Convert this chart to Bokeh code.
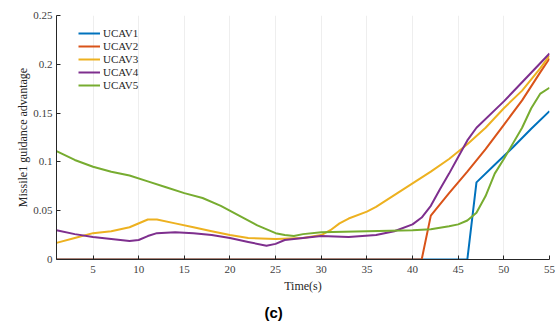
from bokeh.plotting import figure
from bokeh.models import FixedTicker, Legend, LegendItem, Range1d, Title
from bokeh.embed import file_html
from bokeh.resources import INLINE

# ---- data ----
series_names = ["UCAV1", "UCAV2", "UCAV3", "UCAV4", "UCAV5"]
series_colors = ["#0072BD", "#D95319", "#EDB120", "#7E2F8E", "#77AC30"]

t_ucav1 = [1, 10, 20, 30, 40, 46, 47, 49, 51, 53, 55]
v_ucav1 = [0, 0, 0, 0, 0, 0, 0.079, 0.097, 0.115, 0.134, 0.152]

t_ucav2 = [1, 10, 20, 30, 40, 41, 42, 44, 46, 48, 50, 52, 54, 55]
v_ucav2 = [0, 0, 0, 0, 0, 0, 0.045, 0.068, 0.090, 0.113, 0.138, 0.163, 0.192, 0.206]

t_ucav3 = [1, 3, 5, 7, 9, 11, 12, 14, 16, 18, 20, 22, 25, 28, 30, 31, 32, 33, 35, 36,
           38, 40, 42, 44, 46, 48, 50, 52, 54, 55]
v_ucav3 = [0.017, 0.022, 0.027, 0.029, 0.033, 0.041, 0.041, 0.037, 0.033, 0.029, 0.025,
           0.022, 0.021, 0.022, 0.025, 0.030, 0.037, 0.042, 0.049, 0.054, 0.066, 0.078,
           0.090, 0.103, 0.118, 0.135, 0.155, 0.173, 0.196, 0.209]

t_ucav4 = [1, 3, 5, 7, 9, 10, 11, 12, 14, 16, 18, 20, 22, 24, 25, 26, 28, 30, 33, 36,
           38, 40, 41, 42, 43, 44, 45, 46, 47, 50, 55]
v_ucav4 = [0.030, 0.026, 0.023, 0.021, 0.019, 0.020, 0.024, 0.027, 0.028, 0.027, 0.025,
           0.022, 0.018, 0.014, 0.016, 0.020, 0.022, 0.024, 0.023, 0.025, 0.029, 0.036,
           0.043, 0.055, 0.072, 0.088, 0.105, 0.122, 0.135, 0.162, 0.211]

t_ucav5 = [1, 3, 5, 7, 9, 11, 13, 15, 17, 19, 21, 23, 25, 26, 27, 28, 30, 35, 40, 42,
           44, 45, 46, 47, 48, 49, 50, 52, 53, 54, 55]
v_ucav5 = [0.111, 0.102, 0.095, 0.090, 0.086, 0.080, 0.074, 0.068, 0.063, 0.055, 0.045,
           0.035, 0.027, 0.025, 0.024, 0.026, 0.028, 0.029, 0.030, 0.031, 0.034, 0.036,
           0.040, 0.048, 0.065, 0.088, 0.103, 0.135, 0.155, 0.170, 0.176]

x_ticks = [5, 10, 15, 20, 25, 30, 35, 40, 45, 50, 55]
y_ticks = [0, 0.05, 0.1, 0.15, 0.2, 0.25]
y_tick_labels = ["0", "0.05", "0.1", "0.15", "0.2", "0.25"]
panel_caption = "(c)"

serif = "Liberation Serif"

p = figure(width=558, height=327, output_backend="svg", toolbar_location=None,
           x_range=Range1d(1, 55), y_range=Range1d(0, 0.25),
           min_border_left=56, min_border_right=9, min_border_top=15, min_border_bottom=68)
p.outline_line_color = None
p.background_fill_color = "white"

xs = [t_ucav1, t_ucav2, t_ucav3, t_ucav4, t_ucav5]
ys = [v_ucav1, v_ucav2, v_ucav3, v_ucav4, v_ucav5]
items = []
for name, col, x, y in zip(series_names, series_colors, xs, ys):
    r = p.line(x, y, line_color=col, line_width=2)
    items.append(LegendItem(label=name, renderers=[r]))

legend = Legend(items=items, location=(20, 166))
legend.background_fill_alpha = 0
legend.border_line_alpha = 0
legend.padding = 2
legend.margin = 0
legend.spacing = 1
legend.glyph_height = 12
legend.label_height = 12
legend.glyph_width = 22
legend.label_standoff = 3
legend.label_text_font = serif
legend.label_text_font_size = "11px"
legend.label_text_color = "#262626"
p.add_layout(legend)

p.xaxis.ticker = FixedTicker(ticks=x_ticks)
p.yaxis.ticker = FixedTicker(ticks=y_ticks)
p.yaxis.major_label_overrides = {t: l for t, l in zip(y_ticks, y_tick_labels)}
for ax in (p.xaxis, p.yaxis):
    ax.major_tick_in = 4
    ax.major_tick_out = 0
    ax.minor_tick_in = 0
    ax.minor_tick_out = 0
    ax.axis_line_color = "#262626"
    ax.major_tick_line_color = "#262626"
    ax.major_label_text_font = serif
    ax.major_label_text_font_size = "11px"
    ax.major_label_text_color = "#404040"
    ax.axis_label_text_font = serif
    ax.axis_label_text_font_size = "12px"
    ax.axis_label_text_font_style = "normal"
    ax.axis_label_text_color = "#262626"
p.xaxis.axis_label = "Time(s)"
p.yaxis.axis_label = "Missile1 guidance advantage"
p.xaxis.major_label_standoff = 6
p.xaxis.axis_label_standoff = 3
p.yaxis.major_label_standoff = 4
p.yaxis.axis_label_standoff = 0

p.xgrid.grid_line_color = "#eeeeee"
p.ygrid.grid_line_color = None

cap = Title(text=panel_caption, align="left", offset=208, standoff=12,
            text_font="Liberation Sans", text_font_style="bold",
            text_font_size="15px", text_color="black")
p.add_layout(cap, "below")

open("out.html", "w").write(file_html(p, INLINE))
